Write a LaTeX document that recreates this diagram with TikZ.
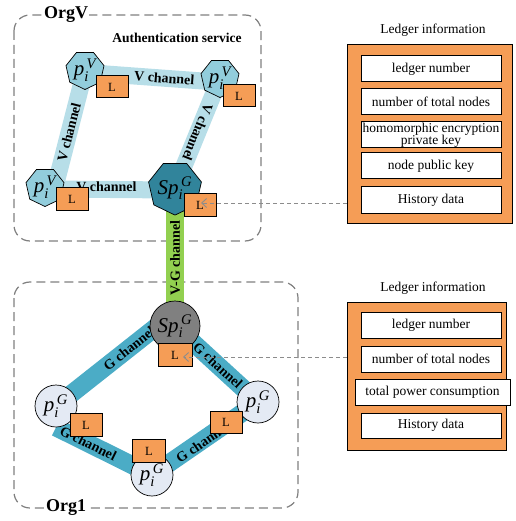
\documentclass[tikz,border=0pt]{standalone}
\usepackage{amsmath}
\usepackage{fontspec}
\setmainfont{Liberation Serif}
\usetikzlibrary{shapes.geometric,arrows.meta}

\definecolor{orggray}{HTML}{7F7F7F}
\definecolor{vfill}{HTML}{92CDDC}
\definecolor{spfill}{HTML}{31849B}
\definecolor{gfill}{HTML}{E4EAF4}
\definecolor{spgray}{HTML}{808080}
\definecolor{lorange}{HTML}{F59D56}
\definecolor{vchancol}{HTML}{B7DEE8}
\definecolor{gchancol}{HTML}{4BACC6}
\definecolor{vgcol}{HTML}{92D050}
\definecolor{linkgray}{HTML}{8C8C8C}

% peer symbol: base letter with subscript and superscript
\newcommand{\peersym}[3]{$\textit{#1}_{\textit{#2}}^{\,\textit{#3}}$}

\pgfdeclarelayer{orgs}
\pgfdeclarelayer{chan}
\pgfdeclarelayer{lab}
\pgfsetlayers{orgs,chan,lab,main}

\begin{document}
\begin{tikzpicture}[x=1pt,y=-1pt,
  orgbox/.style={draw=orggray, line width=1.2pt, dash pattern=on 9pt off 5pt, rounded corners=16pt},
  orglabel/.style={fill=white, inner sep=1pt, font=\fontsize{18}{18}\selectfont\bfseries},
  hepta/.style={regular polygon, regular polygon sides=7, shape border rotate=180,
    draw=black, line width=0.7pt, inner sep=0pt, font=\fontsize{21}{21}\selectfont},
  vnode/.style={hepta, fill=vfill, minimum size=39pt},
  spvnode/.style={hepta, fill=spfill, minimum size=52pt},
  gnode/.style={circle, draw=black, line width=0.7pt, fill=gfill, minimum size=42pt,
    inner sep=0pt, font=\fontsize{21}{21}\selectfont},
  spgnode/.style={gnode, fill=spgray, minimum size=50pt},
  ledger/.style={rectangle, draw=black, line width=1pt, fill=lorange, minimum width=32pt,
    minimum height=22pt, inner sep=0pt, font=\fontsize{12.5}{12.5}\selectfont},
  vchan/.style={line width=17pt, draw=vchancol},
  gchan/.style={line width=18pt, draw=gchancol},
  vgchan/.style={line width=18pt, draw=vgcol},
  chanlabel/.style={font=\fontsize{14}{14}\selectfont\bfseries, inner sep=0pt},
  infobox/.style={rectangle, draw=black, line width=1pt, fill=white, minimum width=140pt,
    minimum height=26pt, inner sep=0pt, font=\fontsize{13.5}{11}\selectfont, align=center},
  infopanel/.style={rectangle, draw=black, line width=1pt, fill=lorange, inner sep=0pt},
  paneltitle/.style={font=\fontsize{13.5}{14}\selectfont, inner sep=0pt},
  link/.style={draw=linkgray, line width=0.9pt, dash pattern=on 4pt off 3pt,
    -{Straight Barb[length=5pt,width=9pt]}}
]
\path[use as bounding box] (0,0) rectangle (515,521);

% ---------- organisation frames ----------
\begin{pgfonlayer}{orgs}
  \draw[orgbox] (14,15) rectangle (261,241);
  \draw[orgbox] (14,282) rectangle (298,508);
\end{pgfonlayer}
\node[orglabel] (orgV) at (66,15) {OrgV};
\node[orglabel] (org1) at (66,508) {Org1};
\node[chanlabel, font=\fontsize{13.5}{14}\selectfont\bfseries] (auth) at (177,38) {Authentication service};

% ---------- OrgV peers ----------
\node[vnode] (pv1) at (85,70) {\peersym{p}{i}{V}};
\node[vnode] (pv2) at (220,78) {\peersym{p}{i}{V}};
\node[vnode] (pv3) at (45,187) {\peersym{p}{i}{V}};
\node[spvnode] (spv) at (175,188) {\peersym{Sp}{i}{G}};

% ---------- Org1 peers ----------
\node[spgnode] (spg) at (175,326) {\peersym{Sp}{i}{G}};
\node[gnode] (g1) at (56,406) {\peersym{p}{i}{G}};
\node[gnode] (g2) at (152,475) {\peersym{p}{i}{G}};
\node[gnode] (g3) at (258,402) {\peersym{p}{i}{G}};

% ---------- channels ----------
\coordinate (vtop1) at ([xshift=8pt,yshift=-3pt]pv1.center);
\coordinate (vtop2) at ([xshift=-4pt,yshift=-4pt]pv2.center);
\coordinate (vleft1) at ([xshift=-2pt,yshift=-8pt]pv1.center);
\coordinate (vleft3) at ([xshift=10pt]pv3.center);
\coordinate (gup) at ([yshift=14pt]spg.center);
\begin{pgfonlayer}{chan}
  \draw[vchan] (vtop1) -- (vtop2);
  \draw[vchan] (vleft1) -- (vleft3);
  \draw[vchan] ([yshift=-2pt]pv3.center) -- ([yshift=-2pt]spv.center);
  \draw[vchan] (pv2.center) -- (spv.center);
  \draw[vgchan] (spv.center) -- (spg.center);
  \draw[gchan] (gup) -- (g1.center);
  \draw[gchan] (spg.center) -- (g3.center);
  \draw[gchan] (g1.south) -- (g2.center);
  \draw[gchan] (g2.center) -- (g3.center);
\end{pgfonlayer}

\begin{pgfonlayer}{lab}
  \path (vtop1) -- (vtop2) node[chanlabel, pos=0.58, sloped] (lv1) {V channel};
  \path (vleft3) -- (vleft1) node[chanlabel, midway, sloped] (lv2) {V channel};
  \path (pv3) -- (spv) node[chanlabel, midway, yshift=1pt] (lv3) {V channel};
  \path (pv2) -- (spv) node[chanlabel, pos=0.55, rotate=-112] (lv4) {V channel};
  \path (spv) -- (spg) node[chanlabel, midway, rotate=90] (lvg) {V-G channel};
  \path (g1) -- (gup) node[chanlabel, pos=0.55, sloped] (lg1) {G channel};
  \path (spg) -- (g3) node[chanlabel, midway, sloped] (lg2) {G channel};
  \path (g1.south) -- (g2) node[chanlabel, pos=0.42, sloped] (lg3) {G channel};
  \path (g2) -- (g3) node[chanlabel, pos=0.45, sloped, yshift=-2pt] (lg4) {G channel};
\end{pgfonlayer}

% ---------- local ledgers ----------
\node[ledger] (L1) at (112,87) {L};
\node[ledger] (L2) at (239,96) {L};
\node[ledger] (L3) at (72,199) {L};
\node[ledger] (L4) at (200,205) {L};
\node[ledger, minimum width=34pt, minimum height=23pt] (L5) at (175,355) {L};
\node[ledger, minimum height=23pt] (L6) at (86,425) {L};
\node[ledger, minimum width=33pt, minimum height=23pt] (L7) at (149,451) {L};
\node[ledger] (L8) at (226,422) {L};

% ---------- ledger information panels ----------
\node[paneltitle] (tV) at (433,30) {Ledger information};
\node[infopanel, minimum width=165pt, minimum height=178pt] (panV) at (429.5,134) {};
\node[infobox] (iV1) at (431,69) {ledger number};
\node[infobox] (iV2) at (431,102) {number of total nodes};
\node[infobox] (iV3) at (431,135) {homomorphic encryption\\[-1pt]private key};
\node[infobox] (iV4) at (431,166) {node public key};
\node[infobox] (iV5) at (431,200) {History data};

\node[paneltitle] (tG) at (433,288) {Ledger information};
\node[infopanel, minimum width=159pt, minimum height=148pt] (panG) at (426.5,376) {};
\node[infobox] (iG1) at (431,325.5) {ledger number};
\node[infobox] (iG2) at (431,359) {number of total nodes};
\node[infobox, minimum width=155pt] (iG3) at (432.5,392.5) {total power consumption};
\node[infobox, minimum height=25pt] (iG4) at (431,425.5) {History data};

% ---------- links from panels to ledgers ----------
\coordinate (aV) at ([xshift=1pt,yshift=2pt]L4.center);
\coordinate (aG) at ([xshift=8pt,yshift=-2pt]L5.center);
\draw[link] (panV.west |- aV) -- (aV);
\draw[link] (panG.west |- aG) -- (aG);
\end{tikzpicture}
\end{document}
